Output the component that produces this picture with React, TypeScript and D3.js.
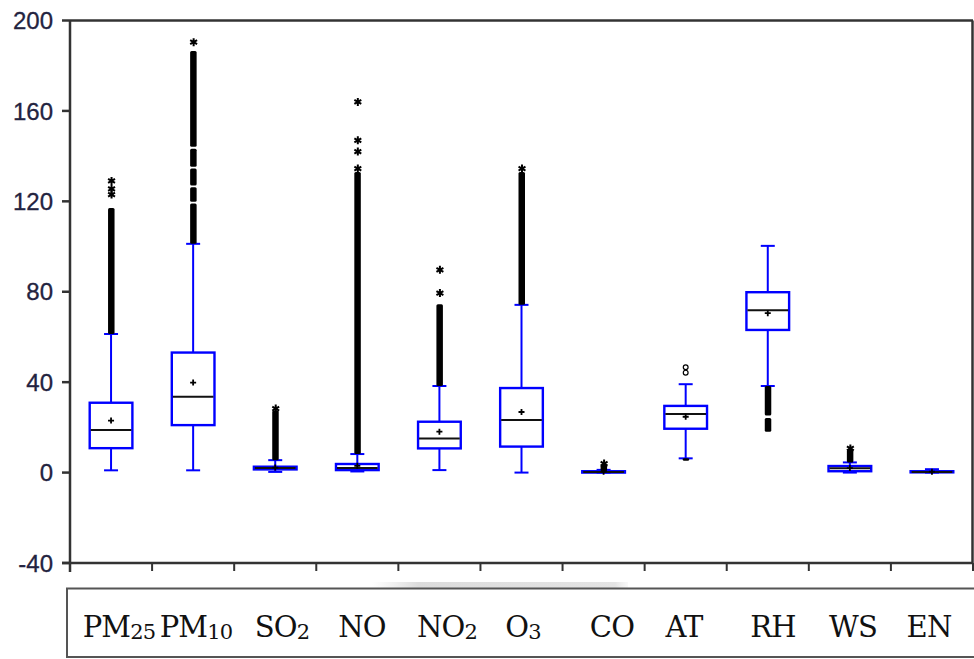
import React from 'react';
import * as d3 from 'd3';

// Variables shown along the x axis
const categories = ['PM25', 'PM10', 'SO2', 'NO', 'NO2', 'O3', 'CO', 'AT', 'RH', 'WS', 'EN'];
const labelMain = ['PM', 'PM', 'SO', 'NO', 'NO', 'O', 'CO', 'AT', 'RH', 'WS', 'EN'];
const labelSub = ['25', '10', '2', '', '2', '3', '', '', '', '', ''];

// Box statistics per variable
const whiskerLow = [1.0, 1.0, 0.3, 0.5, 1.1, 0.0, 0.0, 6.3, 38.3, 0.0, 0.0];
const q1 = [10.8, 21.0, 1.4, 1.1, 10.7, 11.5, 0.0, 19.4, 63.1, 0.6, 0.1];
const median = [18.8, 33.6, 2.0, 2.0, 15.1, 23.3, 0.3, 25.9, 71.8, 1.9, 0.3];
const q3 = [30.9, 53.1, 2.6, 3.8, 22.5, 37.4, 0.6, 29.5, 79.8, 2.9, 0.6];
const whiskerHigh = [61.3, 101.2, 5.5, 8.2, 38.3, 74.2, 1.2, 39.1, 100.3, 4.5, 1.5];
const means = [23.0, 39.8, 2.2, 3.0, 18.1, 26.8, 0.4, 24.7, 70.5, 2.0, 0.4];

// Runs of tightly packed outliers, [from, to]
const outlierRuns: [number, number][][] = [
  [[61.3, 117.0]],
  [[101.2, 119.0], [119.8, 126.2], [127.0, 134.5], [135.3, 143.3], [144.2, 186.5]],
  [[5.5, 27.5]],
  [[8.2, 133.0]],
  [[38.3, 74.5]],
  [[74.2, 133.0]],
  [[0.6, 3.5]],
  [[5.2, 6.3]],
  [[18.1, 24.2], [25.2, 38.3]],
  [[4.5, 10.2]],
  [],
];

// Far outliers (asterisks)
const farOutliers: number[][] = [
  [123.0, 125.5, 129.0],
  [190.4],
  [28.3],
  [134.5, 142.0, 147.0, 164.0],
  [79.4, 89.7],
  [134.5],
  [4.0],
  [],
  [],
  [10.7],
  [],
];

// Near outliers (open circles)
const nearOutliers: number[][] = [[], [], [], [], [], [], [], [44.2, 46.6], [], [], []];

const yTicks = [-40, 0, 40, 80, 120, 160, 200];

// Horizontal centres of the legend labels
const labelCenters = [119, 196, 282, 362, 447, 523, 612, 684, 773, 853, 929];

const W = 974;
const H = 659;

export default function App() {
  const y = d3.scaleLinear().domain([-40, 200]).range([563, 20.5]);
  const x = d3.scaleBand<string>().domain(categories).range([70, 973]).paddingInner(0).paddingOuter(0);
  const bw = x.bandwidth();
  const boxW = bw * 0.52;
  const capW = 14;
  const blue = '#0000ff';
  const axisColor = '#333';
  const textColor = '#23233f';

  const boundaries = d3.range(categories.length + 1).map((i) => 70 + i * bw);

  const star = (cx: number, cy: number, r = 4) => {
    const parts: string[] = [];
    for (let k = 0; k < 3; k++) {
      const a = (Math.PI / 3) * k + Math.PI / 2;
      const dx = Math.cos(a) * r;
      const dy = Math.sin(a) * r;
      parts.push(`M${cx - dx},${cy - dy}L${cx + dx},${cy + dy}`);
    }
    return parts.join('');
  };

  return (
    <svg
      width={W}
      height={H}
      style={{ position: 'absolute', left: 0, top: 0, background: '#fff' }}
    >
      <defs>
        <linearGradient id="strip" x1="0" x2="1" y1="0" y2="0">
          <stop offset="0" stopColor="#e2e2e2" stopOpacity="0" />
          <stop offset="0.18" stopColor="#dcdcdc" stopOpacity="1" />
          <stop offset="0.95" stopColor="#e4e4e4" stopOpacity="1" />
          <stop offset="1" stopColor="#efefef" stopOpacity="0.4" />
        </linearGradient>
      </defs>
      <rect x={0} y={0} width={W} height={H} fill="#fff" />

      {/* plot frame */}
      <line x1={70} x2={973} y1={y(200)} y2={y(200)} stroke={axisColor} strokeWidth={2.5} />
      <line x1={972.5} x2={972.5} y1={y(200)} y2={y(-40)} stroke={axisColor} strokeWidth={2.5} />
      <line x1={70} x2={70} y1={y(200)} y2={y(-40) + 9} stroke={axisColor} strokeWidth={2.5} />
      <line x1={62} x2={973} y1={y(-40)} y2={y(-40)} stroke={axisColor} strokeWidth={2.5} />

      {/* y ticks and labels */}
      {yTicks.map((t) => (
        <g key={t}>
          <line x1={62} x2={70} y1={y(t)} y2={y(t)} stroke={axisColor} strokeWidth={2.5} />
          <text
            x={53}
            y={y(t)}
            dy="0.36em"
            textAnchor="end"
            fontFamily="'Liberation Sans', Arial, sans-serif"
            fontSize={24}
            stroke={textColor}
            strokeWidth={0.3}
            fill={textColor}
          >
            {t}
          </text>
        </g>
      ))}

      {/* x ticks at category boundaries */}
      {boundaries.map((b, i) => (
        <line key={i} x1={b} x2={b} y1={y(-40)} y2={y(-40) + 8} stroke={axisColor} strokeWidth={2} />
      ))}

      {/* boxes */}
      {categories.map((c, i) => {
        const cx = (x(c) as number) + bw / 2;
        return (
          <g key={c}>
            <line x1={cx} x2={cx} y1={y(whiskerLow[i])} y2={y(q1[i])} stroke={blue} strokeWidth={2} />
            <line x1={cx} x2={cx} y1={y(q3[i])} y2={y(whiskerHigh[i])} stroke={blue} strokeWidth={2} />
            <line x1={cx - capW / 2} x2={cx + capW / 2} y1={y(whiskerLow[i])} y2={y(whiskerLow[i])} stroke={blue} strokeWidth={2} />
            <line x1={cx - capW / 2} x2={cx + capW / 2} y1={y(whiskerHigh[i])} y2={y(whiskerHigh[i])} stroke={blue} strokeWidth={2} />
            <rect
              x={cx - boxW / 2}
              y={y(q3[i])}
              width={boxW}
              height={Math.max(0.01, y(q1[i]) - y(q3[i]))}
              fill="none"
              stroke={blue}
              strokeWidth={2.4}
            />
            <line x1={cx - boxW / 2 + 1} x2={cx + boxW / 2 - 1} y1={y(median[i])} y2={y(median[i])} stroke="#111" strokeWidth={2} />
            <path
              d={`M${cx - 3},${y(means[i])}H${cx + 3}M${cx},${y(means[i]) - 3}V${y(means[i]) + 3}`}
              stroke="#000"
              strokeWidth={1.8}
            />
            {outlierRuns[i].map(([lo, hi], k) => (
              <rect key={k} x={cx - 3} y={y(hi)} width={6.5} height={y(lo) - y(hi)} rx={1.5} fill="#000" />
            ))}
            {farOutliers[i].map((v, k) => (
              <path key={k} d={star(cx + 0.5, y(v))} stroke="#000" strokeWidth={2} fill="none" />
            ))}
            {nearOutliers[i].map((v, k) => (
              <circle key={k} cx={cx} cy={y(v)} r={2.4} fill="#fff" stroke="#000" strokeWidth={1.2} />
            ))}
          </g>
        );
      })}

      {/* legend panel */}
      <rect x={372} y={582} width={256} height={6} fill="url(#strip)" />
      <rect x={67} y={588.5} width={920} height={68.5} fill="none" stroke="#555" strokeWidth={2} />
      {categories.map((c, i) => (
        <text
          key={c}
          x={labelCenters[i]}
          y={637}
          textAnchor="middle"
          fontFamily="'DejaVu Serif', 'Liberation Serif', serif"
          fontSize={29}
          letterSpacing={-0.8}
          fill="#111"
        >
          {labelMain[i]}
          {labelSub[i] ? (
            <tspan fontSize={21} dy={2}>
              {labelSub[i]}
            </tspan>
          ) : null}
        </text>
      ))}
    </svg>
  );
}
